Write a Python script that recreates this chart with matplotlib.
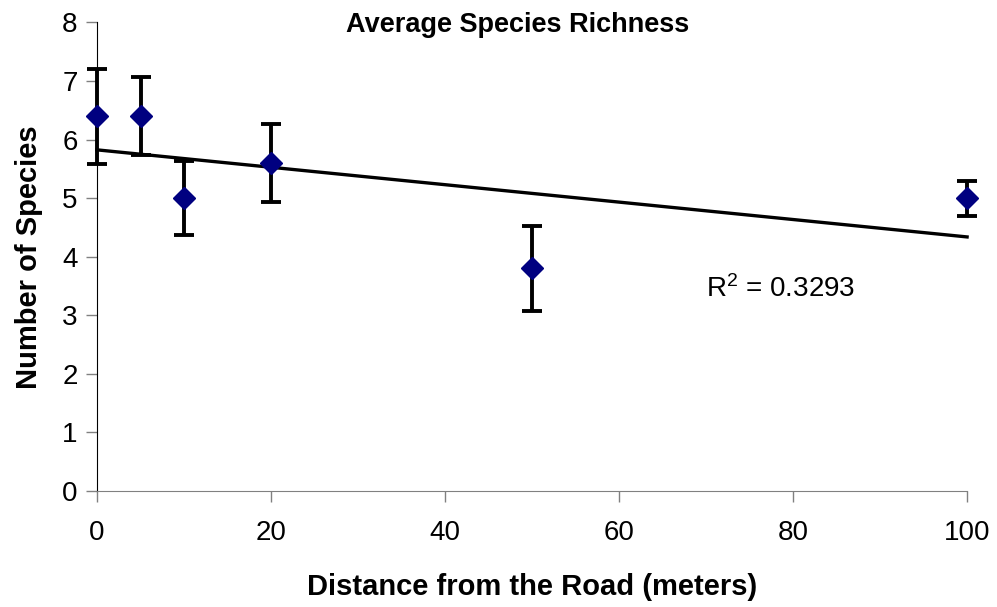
import numpy as np
import matplotlib
matplotlib.use("Agg")
import matplotlib.pyplot as plt

# average species richness at each distance from the road
distance = [0, 5, 10, 20, 50, 100]
species = [6.4, 6.4, 5.0, 5.6, 3.8, 5.0]
error = [0.81, 0.67, 0.63, 0.67, 0.72, 0.3]

plt.rcParams['font.family'] = ['Liberation Sans', 'DejaVu Sans']
plt.rcParams['mathtext.default'] = 'regular'

fig = plt.figure(figsize=(9.97, 6.07), dpi=100)
ax = fig.add_axes([0.0973, 0.191, 0.8727, 0.772])

# linear trendline like the spreadsheet one
slope, intercept = np.polyfit(distance, species, 1)
fit = np.polyval([slope, intercept], distance)
r2 = 1 - np.sum((np.array(species) - fit) ** 2) / np.sum((np.array(species) - np.mean(species)) ** 2)
xs = np.array([0, 100])
ax.plot(xs, slope * xs + intercept, color='black', lw=2.4, clip_on=False, zorder=2)

ax.errorbar(distance, species, yerr=error, fmt='none', ecolor='black',
            elinewidth=2.8, capsize=7.5, capthick=2.8, clip_on=False, zorder=3)
ax.plot(distance, species, ls='none', marker='D', ms=11, color='#000080',
        clip_on=False, zorder=4)

ax.text(70, 3.45, r'R$^{2}$ = ' + '%.4f' % r2, fontsize=20, va='center')

ax.set_xlim(0, 100)
ax.set_ylim(0, 8)
ax.set_xticks([0, 20, 40, 60, 80, 100])
ax.set_yticks(range(0, 9))
ax.tick_params(axis='both', labelsize=20, length=8, width=1, color='#808080', direction='out')
ax.tick_params(axis='x', pad=13)
ax.tick_params(axis='y', pad=6)

ax.spines['top'].set_visible(False)
ax.spines['right'].set_visible(False)
ax.spines['left'].set_color('black')
ax.spines['bottom'].set_color('#808080')

ax.set_xlabel('Distance from the Road (meters)', fontsize=21, fontweight='bold', labelpad=19)
ax.set_ylabel('Number of Species', fontsize=21, fontweight='bold', labelpad=14)
fig.text(0.519, 0.958, 'Average Species Richness', ha='center', va='center',
         fontsize=19.5, fontweight='bold')

fig.savefig('out.png', dpi=100)
